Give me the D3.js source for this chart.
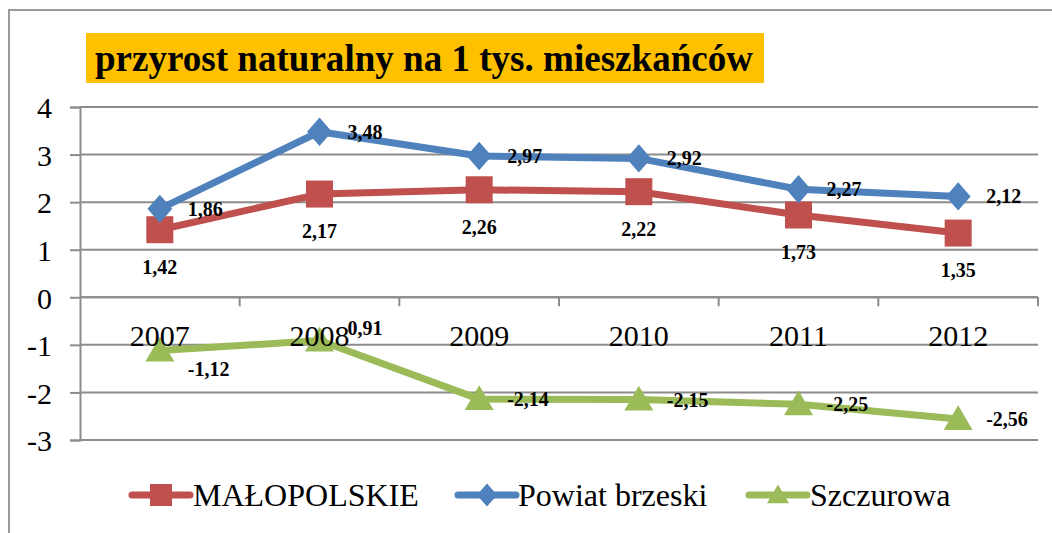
<!DOCTYPE html>
<html>
<head>
<meta charset="utf-8">
<script src="https://cdn.jsdelivr.net/npm/d3@7"></script>
<style>
  html, body { margin: 0; padding: 0; background: #fff; }
  svg { display: block; }
</style>
</head>
<body>
<svg id="chart" width="1052" height="533"></svg>
<script>
// ---- data ----
const years = ["2007", "2008", "2009", "2010", "2011", "2012"];
const malopolskie = [1.42, 2.17, 2.26, 2.22, 1.73, 1.35];
const powiatBrzeski = [1.86, 3.48, 2.97, 2.92, 2.27, 2.12];
const szczurowa = [-1.12, -0.91, -2.14, -2.15, -2.25, -2.56];
const szczurowaLabels = ["-1,12", "0,91", "-2,14", "-2,15", "-2,25", "-2,56"];
const yTicks = [-3, -2, -1, 0, 1, 2, 3, 4];
const seriesNames = ["MAŁOPOLSKIE", "Powiat brzeski", "Szczurowa"];
const titleText = "przyrost naturalny na 1 tys. mieszkańców";

const FONT = "Liberation Serif";
const fmt = v => d3.format(".2f")(v).replace(".", ",").replace("\u2212", "-");

const series = [
  { name: seriesNames[0], values: malopolskie, color: "#C0504D", marker: "square",
    labels: malopolskie.map(fmt), pos: "below" },
  { name: seriesNames[1], values: powiatBrzeski, color: "#4F81BD", marker: "diamond",
    labels: powiatBrzeski.map(fmt), pos: "right" },
  { name: seriesNames[2], values: szczurowa, color: "#9BBB59", marker: "triangle",
    labels: szczurowaLabels, pos: "right", dy: [18, -13, 0, 0, 0, 0] }
];

const svg = d3.select("#chart");
const gridColor = "#8C8C8C";

// outer frame
svg.append("rect").attr("x", 9).attr("y", 10).attr("width", 1100).attr("height", 600)
  .attr("fill", "none").attr("stroke", "#9A9A9A").attr("stroke-width", 2);

// title
svg.append("rect").attr("x", 86).attr("y", 33).attr("width", 678).attr("height", 50)
  .attr("fill", "#FFC000");
svg.append("text").attr("x", 95).attr("y", 71)
  .attr("font-family", FONT)
  .attr("font-size", 37).attr("font-weight", "bold").attr("fill", "#000")
  .attr("textLength", 658).attr("lengthAdjust", "spacingAndGlyphs")
  .text(titleText);

// scales
const x = d3.scaleBand().domain(years).range([80, 1038]);
const cx = d => x(d) + x.bandwidth() / 2;
const y = d3.scaleLinear().domain([-3, 4]).range([440, 107]);

// gridlines
svg.append("g").selectAll("line").data(yTicks).join("line")
  .attr("x1", 80).attr("x2", 1038)
  .attr("y1", d => y(d)).attr("y2", d => y(d))
  .attr("stroke", gridColor).attr("stroke-width", 2);

// y axis
const yAxis = d3.axisLeft(y).tickValues(yTicks).tickSize(10).tickPadding(18)
  .tickFormat(d => String(d));
const gy = svg.append("g").attr("transform", "translate(80,0)").call(yAxis)
  .attr("font-family", FONT);
gy.select(".domain").attr("stroke", gridColor).attr("stroke-width", 2);
gy.selectAll(".tick line").attr("stroke", gridColor).attr("stroke-width", 2);
gy.selectAll(".tick text").attr("font-size", 30).attr("fill", "#000")
  .attr("font-family", FONT)
  .attr("dy", "0.36em");

// x axis at zero
const gx = svg.append("g");
gx.append("line").attr("x1", 80).attr("x2", 1038).attr("y1", y(0)).attr("y2", y(0))
  .attr("stroke", gridColor).attr("stroke-width", 2);
const boundaries = years.map(d => x(d)).concat([x(years[years.length - 1]) + x.bandwidth()]);
gx.selectAll("line.tick").data(boundaries.slice(1)).join("line").attr("class", "tick")
  .attr("x1", d => d).attr("x2", d => d).attr("y1", y(0)).attr("y2", y(0) + 9)
  .attr("stroke", gridColor).attr("stroke-width", 2);

// lines
const line = d3.line().x((d, i) => cx(years[i])).y(d => y(d));
series.forEach(s => {
  svg.append("path").datum(s.values).attr("d", line)
    .attr("fill", "none").attr("stroke", s.color).attr("stroke-width", 7)
    .attr("stroke-linejoin", "round");
});

// markers
function markerPath(type, size) {
  const h = size / 2;
  if (type === "square") return `M${-h},${-h}H${h}V${h}H${-h}Z`;
  if (type === "diamond") return `M0,${-h * 1.05}L${h * 0.92},0L0,${h * 1.05}L${-h * 0.92},0Z`;
  return `M0,${-h * 0.95}L${h},${h * 0.75}L${-h},${h * 0.75}Z`;
}
const markerSize = { square: 27, diamond: 27, triangle: 29 };
series.forEach(s => {
  svg.append("g").selectAll("path").data(s.values).join("path")
    .attr("transform", (d, i) => `translate(${cx(years[i])},${y(d)})`)
    .attr("d", markerPath(s.marker, markerSize[s.marker]))
    .attr("fill", s.color);
});

// x tick labels
svg.append("g").selectAll("text").data(years).join("text")
  .attr("x", d => cx(d)).attr("y", 346)
  .attr("font-family", FONT)
  .attr("text-anchor", "middle").attr("font-size", 30).attr("fill", "#000")
  .text(d => d);

// data labels
series.forEach(s => {
  svg.append("g").selectAll("text").data(s.values).join("text")
    .attr("x", (d, i) => s.pos === "below" ? cx(years[i]) : cx(years[i]) + 28)
    .attr("y", (d, i) => s.pos === "below" ? y(d) + 37 : y(d) + (s.dy ? s.dy[i] : 0))
    .attr("dy", "0.35em")
    .attr("font-family", FONT)
    .attr("text-anchor", s.pos === "below" ? "middle" : "start")
    .attr("font-size", 20).attr("font-weight", "bold").attr("fill", "#000")
    .text((d, i) => s.labels[i]);
});

// legend
const legendItems = [
  { s: series[0], lx: 132, tx: 193 },
  { s: series[1], lx: 458, tx: 518 },
  { s: series[2], lx: 749, tx: 810 }
];
const ly = 495;
const lg = svg.append("g");
legendItems.forEach(it => {
  lg.append("line").attr("x1", it.lx).attr("x2", it.lx + 58).attr("y1", ly).attr("y2", ly)
    .attr("stroke", it.s.color).attr("stroke-width", 7).attr("stroke-linecap", "round");
  lg.append("path").attr("transform", `translate(${it.lx + 29},${ly})`)
    .attr("d", markerPath(it.s.marker, 22)).attr("fill", it.s.color);
  lg.append("text").attr("x", it.tx).attr("y", 506).attr("font-size", 32).attr("fill", "#000")
    .attr("font-family", FONT)
    .text(it.s.name);
});
</script>
</body>
</html>
